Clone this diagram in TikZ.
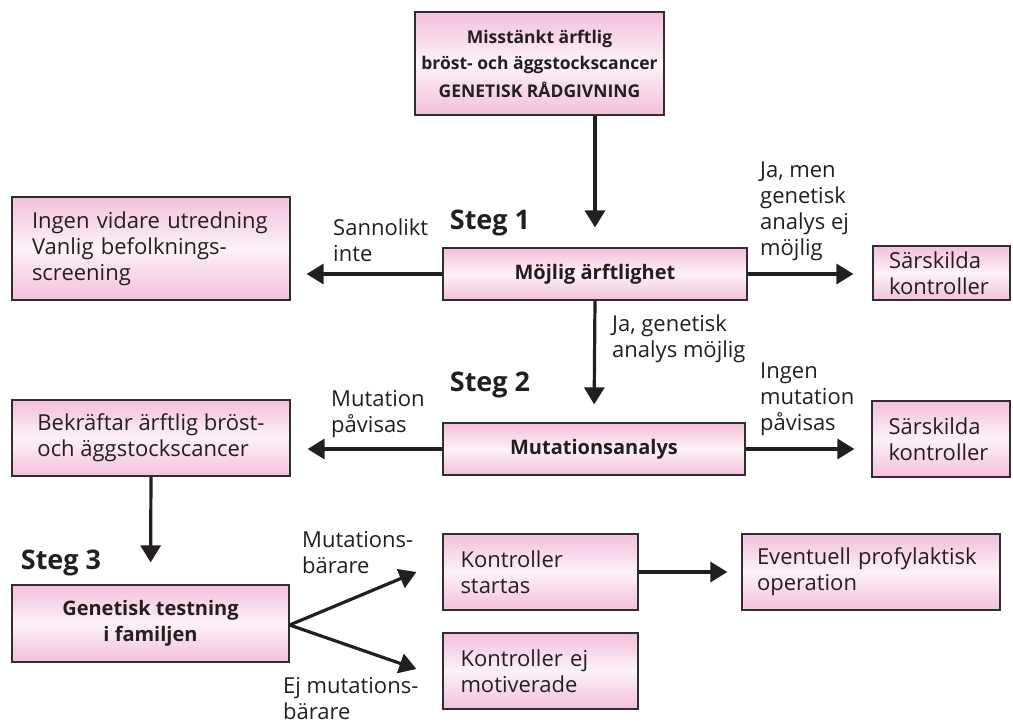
\documentclass[tikz,border=0pt]{standalone}
\usepackage{fontspec}
\setmainfont{Open Sans}
\usetikzlibrary{arrows.meta}
\definecolor{boxpink}{RGB}{243,192,220}
\definecolor{boxlight}{RGB}{253,242,248}
\definecolor{edgegray}{RGB}{50,45,50}
\definecolor{ink}{RGB}{35,31,32}
\newcommand\myfs{\fontsize{22}{26}\selectfont}
\newcommand\mybf{\fontsize{20}{26}\selectfont\bfseries}
\newcommand\mytopf{\fontsize{17.5}{26}\selectfont\bfseries}
\begin{document}
\begin{tikzpicture}[x=1pt,y=-1pt,
  box/.style={draw=edgegray, line width=1.2pt, top color=boxpink, bottom color=boxpink, middle color=boxlight, inner sep=0pt, font=\myfs, text=ink},
  lbox/.style={box, align=left},
  cbox/.style={box, align=center},
  lbl/.style={font=\myfs, align=left, inner sep=0pt, text=ink, anchor=west},
  steglbl/.style={font=\fontsize{27}{30}\selectfont\bfseries, inner sep=0pt, text=ink},
  arr/.style={draw=ink, line width=3.2pt, -{Triangle[length=17pt,width=20pt]}}
]
\useasboundingbox (0,0) rectangle (1013,724);

% boxes
\node[cbox, font=\mytopf, minimum width=249pt, minimum height=103pt] (top) at (539.5,63.5)
  {Misstänkt ärftlig\\bröst- och äggstockscancer\\[2pt]GENETISK RÅDGIVNING};
\node[cbox, font=\mybf, minimum width=304pt, minimum height=52pt] (moj) at (595,274) {Möjlig ärftlighet};
\node[lbox, minimum width=278pt, minimum height=103pt, text width=238pt] (ingen) at (151,248.5)
  {Ingen vidare utredning\\Vanlig befolknings-\\screening};
\node[lbox, minimum width=137pt, minimum height=54pt, text width=105pt] (sar1) at (941.5,273)
  {Särskilda\\kontroller};
\node[cbox, font=\mybf, minimum width=302pt, minimum height=52pt] (mut) at (594,449) {Mutationsanalys};
\node[lbox, minimum width=278pt, minimum height=76pt] (bekr) at (151,438)
  {Bekräftar ärftlig bröst-\\och äggstockscancer};
\node[lbox, minimum width=138pt, minimum height=76pt, text width=105pt] (sar2) at (941,439)
  {Särskilda\\kontroller};
\node[cbox, font=\mybf, minimum width=277pt, minimum height=77pt] (gen) at (150.5,623.5)
  {Genetisk testning\\i familjen};
\node[lbox, minimum width=195pt, minimum height=76pt, text width=160pt] (kstart) at (540.5,572)
  {Kontroller\\startas};
\node[lbox, minimum width=258pt, minimum height=76pt, text width=228pt] (event) at (871,572)
  {Eventuell profylaktisk\\operation};
\node[lbox, minimum width=195pt, minimum height=76pt, text width=160pt] (kej) at (540.5,671)
  {Kontroller ej\\motiverade};

% step labels
\node[steglbl] (s1) at (490,223) {Steg 1};
\node[steglbl] (s2) at (490,385) {Steg 2};
\node[steglbl] (s3) at (61,563) {Steg 3};

% connector labels
\node[lbl] (l1) at (333,240) {Sannolikt\\inte};
\node[lbl] (l2) at (760,211.5) {Ja, men\\genetisk\\analys ej\\möjlig};
\node[lbl] (l3) at (612,339) {Ja, genetisk\\analys möjlig};
\node[lbl] (l4) at (331,414) {Mutation\\påvisas};
\node[lbl] (l5) at (760,399) {Ingen\\mutation\\påvisas};
\node[lbl] (l6) at (302,553) {Mutations-\\bärare};
\node[lbl] (l7) at (283,699) {Ej mutations-\\bärare};

% connectors
\draw[arr, shorten >=20pt] (top.south -| moj.north) -- (moj.north);
\draw[arr, shorten >=16pt] (moj.west) -- (moj.west -| ingen.east);
\draw[arr, shorten >=19pt] (moj.east) -- (moj.east -| sar1.west);
\draw[arr, shorten >=18pt] (moj.south) -- (mut.north);
\draw[arr, shorten >=17pt] (mut.west) -- (mut.west -| bekr.east);
\draw[arr, shorten >=17pt] (mut.east) -- (mut.east -| sar2.west);
\draw[arr, shorten >=22pt] (bekr.south) -- (gen.north);
\coordinate (fork) at ([yshift=-1.5pt]gen.east);
\coordinate (endA) at ([xshift=-26pt]kstart.west);
\coordinate (endB) at ([xshift=-26pt,yshift=2pt]kej.west);
\draw[arr] (fork) -- (endA);
\draw[arr] (fork) -- (endB);
\draw[arr, shorten >=14pt] (kstart.east) -- (event.west);
\end{tikzpicture}
\end{document}
